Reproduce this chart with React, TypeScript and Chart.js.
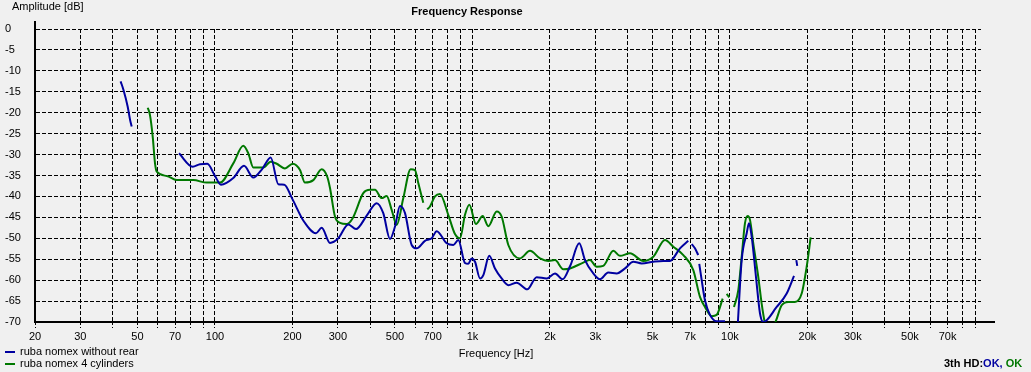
import React, { useEffect, useRef } from 'react';
import { Chart, registerables } from 'chart.js';

Chart.register(...registerables);

// ---- axis data ----
const gridValues = [
  20, 30, 40, 50, 60, 70, 80, 90,
  100, 200, 300, 400, 500, 600, 700, 800, 900,
  1000, 2000, 3000, 4000, 5000, 6000, 7000, 8000, 9000,
  10000, 20000, 30000, 40000, 50000, 60000, 70000, 80000, 90000,
];
const labelValues = [20, 30, 50, 70, 100, 200, 300, 500, 700, 1000, 2000, 3000, 5000, 7000, 10000, 20000, 30000, 50000, 70000];
const labelTexts = ['20', '30', '50', '70', '100', '200', '300', '500', '700', '1k', '2k', '3k', '5k', '7k', '10k', '20k', '30k', '50k', '70k'];

const seriesNames = ['ruba nomex without rear', 'ruba nomex 4 cylinders'];
const seriesColors = ['rgb(0,0,160)', 'rgb(0,120,0)'];

// ---- series 1 (blue) ----
const blueFreq = [
  43, 44.1, 45.8, 46.8, 47.5,
  60,
  72.5, 81.9, 87.5, 93.4, 100,
  105.5, 117.8, 129.6, 140.9, 152.7,
  164.6, 176.2, 185.9, 199, 221.6,
  246.8, 259.7, 279.7, 301.3, 329.4,
  353, 388.4, 424.6, 450.4, 478.3,
  500.2, 523, 547, 580.6, 607.2,
  654, 694.4, 726.2, 794, 842.6,
  881.2, 935, 963, 993, 1023,
  1070, 1102, 1162, 1223, 1298,
  1378, 1485, 1632, 1776, 1942,
  2092, 2240, 2400, 2598, 2736,
  2946, 3128, 3368, 3631, 3912,
  4213, 4542, 5038, 5508, 5848,
  6396, 6888,
  7000,
  7100, 7312, 7532,
  7570,
  7600, 7766, 7998, 8364, 8880, 9564,
  10100,
  10714, 11106, 11614, 11854, 12144,
  12619, 13078, 13472, 15188, 16608, 17732,
  17950,
  18100, 18250,
];
const blueDb = [
  -12.5, -14.5, -18.5, -21.7, -23.3,
  null,
  -29.7, -32.9, -32.3, -32.2, -35.1,
  -37.2, -35.6, -32.7, -35.5, -33.4,
  -30.7, -37.1, -37.2, -40.4, -46.0,
  -48.8, -47.5, -51.1, -50.0, -46.7,
  -47.8, -44.6, -41.6, -44.0, -50.2,
  -47.2, -42.3, -44.0, -51.6, -52.4,
  -50.6, -50.0, -48.3, -51.2, -51.6,
  -50.4, -55.9, -56.1, -54.8, -55.6,
  -59.6, -58.8, -54.2, -57.2, -59.6,
  -61.2, -60.6, -62.2, -59.3, -59.6,
  -58.4, -59.8, -56.5, -51.2, -55.2,
  -58.4, -59.8, -58.2, -58.4, -57.2,
  -55.6, -56.0, -55.6, -55.4, -55.4,
  -52.4, -50.6,
  null,
  -51.4, -52.4, -54.0,
  null,
  -56.1, -60.0, -64.8, -68.3, -69.8, -69.8,
  null,
  -71, -55.2, -48.8, -46.4, -49.6,
  -59.2, -67.9, -70.0, -66.4, -63.2, -59.0,
  null,
  -55.2, -56.6,
];

// ---- series 2 (green) ----
const greenFreq = [
  54.8, 55.9, 57.3, 58.5, 59.4,
  65.0, 71.0, 82.4, 92.9, 104.6,
  117.8, 128.8, 134.7, 140.9, 154.1,
  164.6, 173.7, 187.0, 200.4, 213.9,
  223.6, 240.9, 259.7, 272.9, 279.7,
  292.4, 305.8, 324.7, 342.6, 376.7,
  400, 418.4, 444.1, 464.4, 485.5,
  507.8, 538.9, 575.4, 598, 616,
  644.2,
  655,
  667.6, 684, 715.2, 747.8, 805.4,
  855.2, 894.4, 935.4, 972.2, 1032,
  1096, 1152, 1242, 1298, 1378,
  1529, 1673, 1829, 1970, 2092,
  2253, 2392, 2694, 2860, 3036,
  3221, 3524, 3740, 4090, 4606,
  5038, 5594, 6024, 6590, 7204,
  7648, 7998, 8492, 8880, 9370,
  9550,
  9710, 9940,
  10150,
  10368, 10774, 11106, 11438, 11720,
  11962, 12320, 12882, 13278, 13678,
  14300, 15092, 15878, 16842, 17884,
  18990, 19858, 20580,
];
const greenDb = [
  -18.8, -20.5, -25.7, -32.1, -34.1,
  -35.1, -36.1, -36.1, -36.7, -36.7,
  -32.1, -27.9, -29.7, -33.1, -33.1,
  -31.7, -32.2, -33.3, -32.2, -33.7,
  -36.7, -36.1, -33.5, -35.3, -38.0,
  -44.8, -46.3, -46.6, -45.2, -39.2,
  -38.4, -38.4, -40.4, -39.9, -43.2,
  -46.8, -40.4, -33.5, -33.7, -36.8,
  -41.5,
  null,
  -43.1, -42.4, -40.0, -39.4, -44.4,
  -49.0, -50.0, -44.4, -42.0, -46.6,
  -44.7, -47.1, -43.6, -44.8, -51.6,
  -54.8, -53.0, -54.8, -55.4, -55.2,
  -57.4, -57.2, -55.8, -55.2, -56.8,
  -56.6, -53.0, -54.2, -53.6, -55.4,
  -54.4, -50.4, -52.0, -54.0, -57.6,
  -64.0, -66.4, -68.6, -68.3, -64.4,
  null,
  -63.3, -64.1,
  null,
  -66.4, -62.4, -54.4, -46.4, -44.7,
  -45.6, -51.2, -59.2, -65.6, -70.3,
  -73, -69.7, -66.0, -65.2, -65.2,
  -63.2, -56.8, -49.8,
];

const FONT = '"Liberation Sans", Arial, sans-serif';

const toPoints = (fs: number[], ds: (number | null)[]) => fs.map((f, i) => ({ x: f, y: ds[i] }));

const overlayPlugin = {
  id: 'overlay',
  beforeDraw(chart: any) {
    const ctx = chart.ctx;
    ctx.save();
    ctx.fillStyle = '#f0f0f0';
    ctx.fillRect(0, 0, chart.width, chart.height);
    ctx.restore();
  },
  afterDraw(chart: any) {
    const ctx = chart.ctx;
    const { top, right, bottom } = chart.chartArea;
    ctx.save();
    ctx.fillStyle = '#000';
    // axis extensions
    ctx.fillRect(34, 21, 2, top - 21 + 1);
    ctx.fillRect(right, bottom - 1, 14, 2);

    ctx.textBaseline = 'middle';
    ctx.font = `11px ${FONT}`;
    ctx.textAlign = 'left';
    ctx.fillText('Amplitude [dB]', 12, 7);

    ctx.font = `bold 11px ${FONT}`;
    ctx.textAlign = 'center';
    ctx.fillText('Frequency Response', 467, 12);

    ctx.font = `11px ${FONT}`;
    ctx.fillText('Frequency [Hz]', 496, 354);

    // legend
    ctx.textAlign = 'left';
    chart.data.datasets.forEach((ds: any, i: number) => {
      const y = 352 + i * 12;
      ctx.fillStyle = ds.borderColor;
      ctx.fillRect(5, y - 1, 10, 2);
      ctx.fillStyle = '#000';
      ctx.fillText(ds.label, 20, y);
    });

    // 3th HD status
    ctx.font = `bold 11px ${FONT}`;
    let x = 944;
    const parts: [string, string][] = [
      ['3th HD:', '#000'],
      ['OK, ', seriesColors[0]],
      ['OK', seriesColors[1]],
    ];
    parts.forEach(([t, c]) => {
      ctx.fillStyle = c;
      ctx.fillText(t, x, 364);
      x += ctx.measureText(t).width;
    });
    ctx.restore();
  },
};

export default function App() {
  const ref = useRef<HTMLCanvasElement>(null);

  useEffect(() => {
    document.body.style.margin = '0';
    const canvas = ref.current;
    if (!canvas) return;
    const lineStyle = {
      borderWidth: 2,
      pointRadius: 0,
      cubicInterpolationMode: 'monotone' as const,
      spanGaps: false,
    };
    const chart = new Chart(canvas, {
      type: 'line',
      data: {
        datasets: [
          {
            label: seriesNames[0],
            data: toPoints(blueFreq, blueDb) as any,
            borderColor: seriesColors[0],
            ...lineStyle,
          },
          {
            label: seriesNames[1],
            data: toPoints(greenFreq, greenDb) as any,
            borderColor: seriesColors[1],
            ...lineStyle,
          },
        ],
      },
      options: {
        responsive: false,
        animation: false,
        devicePixelRatio: 1,
        layout: { padding: { left: 5, top: 29, right: 50, bottom: 0 } },
        plugins: {
          legend: { display: false },
          title: { display: false },
          tooltip: { enabled: false },
        },
        scales: {
          x: {
            type: 'logarithmic',
            min: 20,
            max: 94400,
            afterBuildTicks: (scale: any) => {
              scale.ticks = gridValues.map((v) => ({ value: v }));
            },
            afterFit: (scale: any) => {
              scale.height = 50;
            },
            ticks: {
              autoSkip: false,
              maxRotation: 0,
              minRotation: 0,
              padding: 2,
              color: '#000',
              font: { family: FONT, size: 11 },
              callback: (value: any) => {
                const i = labelValues.indexOf(Number(value));
                return i >= 0 ? labelTexts[i] : '';
              },
            },
            grid: {
              color: '#000',
              lineWidth: 1,
              drawTicks: true,
              tickLength: 6,
              tickColor: '#000',
              tickBorderDash: [2, 2],
            },
            border: { display: true, color: '#000', width: 2, dash: [4, 2] },
          },
          y: {
            type: 'linear',
            min: -70,
            max: 0,
            afterFit: (scale: any) => {
              scale.width = 30;
            },
            ticks: {
              stepSize: 5,
              crossAlign: 'far',
              padding: 0,
              color: '#000',
              font: { family: FONT, size: 11 },
              callback: (value: any) => String(value),
            },
            grid: {
              color: '#000',
              lineWidth: 1,
              drawTicks: false,
              tickLength: 0,
            },
            border: { display: true, color: '#000', width: 2, dash: [4, 2] },
          },
        },
      },
      plugins: [overlayPlugin],
    });
    return () => chart.destroy();
  }, []);

  return (
    <canvas
      ref={ref}
      width={1031}
      height={372}
      style={{ display: 'block', width: 1031, height: 372 }}
    />
  );
}
